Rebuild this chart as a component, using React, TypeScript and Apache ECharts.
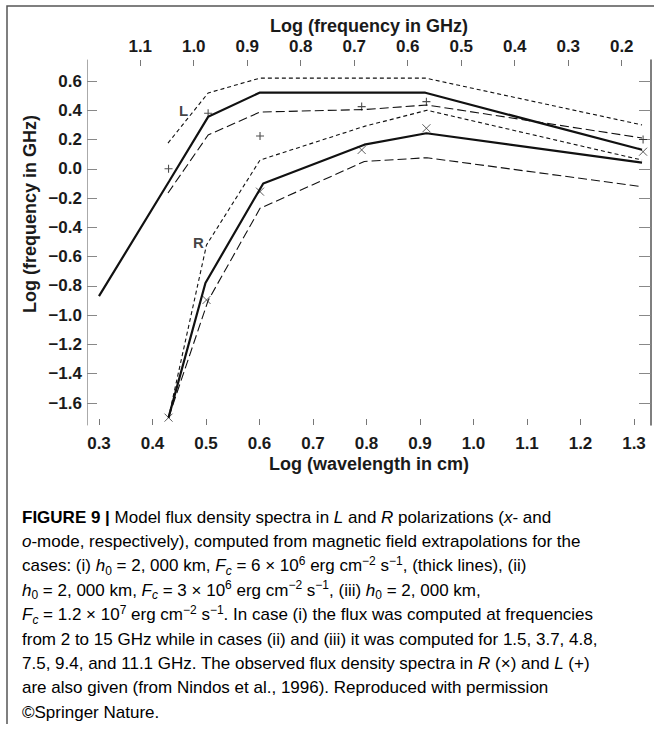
import React, { useEffect, useRef } from 'react';
import * as echarts from 'echarts';

const LOG30 = Math.log10(30);

// Axis ticks
const xTickValues = [0.3, 0.4, 0.5, 0.6, 0.7, 0.8, 0.9, 1.0, 1.1, 1.2, 1.3];
const yTickValues = [0.6, 0.4, 0.2, 0.0, -0.2, -0.4, -0.6, -0.8, -1.0, -1.2, -1.4, -1.6];
const freqTickValues = [1.1, 1.0, 0.9, 0.8, 0.7, 0.6, 0.5, 0.4, 0.3, 0.2];

// Axis extents (log wavelength / log flux)
const X_MIN = 0.2776;
const X_MAX = 1.3318;
const Y_MIN = -1.7503;
const Y_MAX = 0.7435;

// Model spectra, L polarization
const lThick = [[0.30, -0.87], [0.432, -0.08], [0.504, 0.355], [0.60, 0.52], [0.91, 0.52], [1.315, 0.13]];
const lUpper = [[0.429, 0.176], [0.504, 0.518], [0.601, 0.62], [0.796, 0.62], [0.91, 0.62], [1.315, 0.30]];
const lLower = [[0.429, -0.165], [0.504, 0.231], [0.601, 0.388], [0.796, 0.405], [0.913, 0.436], [1.315, 0.211]];
// Model spectra, R polarization
const rThick = [[0.43, -1.70], [0.499, -0.78], [0.607, -0.10], [0.796, 0.165], [0.912, 0.243], [1.315, 0.042]];
const rUpper = [[0.43, -1.70], [0.501, -0.52], [0.601, 0.06], [0.796, 0.29], [0.913, 0.40], [1.315, 0.06]];
const rLower = [[0.43, -1.70], [0.504, -0.90], [0.601, -0.27], [0.796, 0.05], [0.913, 0.076], [1.315, -0.122]];
// Observations
const lObs = [[0.43, 0.0], [0.504, 0.38], [0.601, 0.224], [0.791, 0.425], [0.912, 0.459], [1.317, 0.20]];
const rObs = [[0.43, -1.70], [0.501, -0.896], [0.601, -0.156], [0.791, 0.129], [0.912, 0.277], [1.317, 0.117]];
// Curve labels
const curveLabels = [
  { name: 'L', value: [0.458, 0.40] },
  { name: 'R', value: [0.486, -0.504] },
];

const FONT = '"Liberation Sans", Arial, Helvetica, sans-serif';
const PLUS = 'path://M0,5L10,5M5,0L5,10';
const CROSS = 'path://M0,0L10,10M0,10L10,0';

const captionLines = [
  '{b|FIGURE 9 |} Model flux density spectra in {i|L} and {i|R} polarizations ({i|x}- and',
  '{i|o}-mode, respectively), computed from magnetic field extrapolations for the',
  'cases: (i) {i|h}{sub|0} = 2, 000 km, {i|F}{isub|c} = 6 × 10{sup|6} erg cm{sup|−2} s{sup|−1}, (thick lines), (ii)',
  '{i|h}{sub|0} = 2, 000 km, {i|F}{isub|c} = 3 × 10{sup|6} erg cm{sup|−2} s{sup|−1}, (iii) {i|h}{sub|0} = 2, 000 km,',
  '{i|F}{isub|c} = 1.2 × 10{sup|7} erg cm{sup|−2} s{sup|−1}. In case (i) the flux was computed at frequencies',
  'from 2 to 15 GHz while in cases (ii) and (iii) it was computed for 1.5, 3.7, 4.8,',
  '7.5, 9.4, and 11.1 GHz. The observed flux density spectra in {i|R} (×) and {i|L} (+)',
  'are also given (from {link|Nindos et al., 1996}). Reproduced with permission',
  '©Springer Nature.',
];

const fmtY = (v: number) => (Math.abs(v) < 1e-9 ? '0.0' : v.toFixed(1).replace('-', '\u2212'));
const fmtX = (v: number) => v.toFixed(1);

const tickLabel = { fontSize: 17, fontWeight: 'bold' as const, fontFamily: FONT, color: '#1a1a1a' };

function buildOption() {
  const cap = 17;
  const capStyleBase = { fontSize: cap, fontFamily: FONT, color: '#333', lineHeight: 24 };
  const rich = {
    b: { ...capStyleBase, fontWeight: 'bold', color: '#111' },
    i: { ...capStyleBase, fontStyle: 'italic' },
    sub: { fontSize: 12, fontFamily: FONT, color: '#333', verticalAlign: 'bottom', height: 14, lineHeight: 24 },
    isub: { fontSize: 12, fontFamily: FONT, color: '#333', fontStyle: 'italic', verticalAlign: 'bottom', height: 14, lineHeight: 24 },
    sup: { fontSize: 12, fontFamily: FONT, color: '#333', verticalAlign: 'top', height: 14, lineHeight: 24 },
    link: { ...capStyleBase, color: '#7d8da0' },
  };

  const captionGraphics = captionLines.map((t, k) => ({
    type: 'text',
    x: 22,
    y: 517 + k * 24.4,
    style: {
      text: t,
      ...capStyleBase,
      align: 'left',
      verticalAlign: 'middle',
      rich,
    },
  }));

  const lineSeries = (data: number[][], width: number, type: any) => ({
    type: 'line',
    data,
    symbol: 'none',
    silent: true,
    xAxisIndex: 0,
    yAxisIndex: 0,
    lineStyle: { color: '#111', width, type },
  });

  return {
    animation: false,
    backgroundColor: '#ffffff',
    grid: { left: 87, top: 60, width: 564, height: 365 },
    xAxis: [
      {
        type: 'value',
        position: 'bottom',
        min: X_MIN,
        max: X_MAX,
        axisLine: { show: false, onZero: false },
        axisTick: { show: true, inside: true, length: 6, customValues: xTickValues, lineStyle: { color: '#777', width: 1 } },
        axisLabel: { customValues: xTickValues, formatter: fmtX, margin: 10, ...tickLabel },
        splitLine: { show: false },
      },
      {
        type: 'value',
        position: 'top',
        inverse: true,
        min: LOG30 - X_MAX,
        max: LOG30 - X_MIN,
        axisLine: { show: false, onZero: false },
        axisTick: { show: true, inside: true, length: 6, customValues: freqTickValues, lineStyle: { color: '#777', width: 1 } },
        axisLabel: { customValues: freqTickValues, formatter: fmtX, margin: 5, ...tickLabel },
        splitLine: { show: false },
      },
    ],
    yAxis: [
      {
        type: 'value',
        position: 'left',
        min: Y_MIN,
        max: Y_MAX,
        axisLine: { show: true, onZero: false, lineStyle: { color: '#aaa', width: 1 } },
        axisTick: { show: true, inside: true, length: 10, customValues: yTickValues, lineStyle: { color: '#888', width: 1 } },
        axisLabel: { customValues: yTickValues, formatter: fmtY, margin: 5, ...tickLabel },
        splitLine: { show: false },
      },
      {
        type: 'value',
        position: 'right',
        min: Y_MIN,
        max: Y_MAX,
        axisLine: { show: true, onZero: false, lineStyle: { color: '#555', width: 1.5 } },
        axisTick: { show: true, inside: true, length: 12, customValues: yTickValues, lineStyle: { color: '#888', width: 1 } },
        axisLabel: { show: false },
        splitLine: { show: false },
      },
    ],
    series: [
      lineSeries(lThick, 2.2, 'solid'),
      lineSeries(lUpper, 1.1, [4, 3]),
      lineSeries(lLower, 1.1, [9, 4]),
      lineSeries(rThick, 2.2, 'solid'),
      lineSeries(rUpper, 1.1, [4, 3]),
      lineSeries(rLower, 1.1, [9, 4]),
      {
        type: 'scatter',
        data: lObs,
        symbol: PLUS,
        symbolSize: 8,
        silent: true,
        itemStyle: { color: 'rgba(0,0,0,0)', borderColor: '#222', borderWidth: 1.1 },
      },
      {
        type: 'scatter',
        data: rObs,
        symbol: CROSS,
        symbolSize: 8,
        silent: true,
        itemStyle: { color: 'rgba(0,0,0,0)', borderColor: '#333', borderWidth: 1 },
      },
      {
        type: 'scatter',
        data: curveLabels,
        symbolSize: 0,
        silent: true,
        label: { show: true, position: 'inside', formatter: '{b}', fontSize: 15, fontWeight: 'bold', fontFamily: FONT, color: '#111' },
      },
    ],
    graphic: [
      {
        type: 'polyline',
        silent: true,
        shape: { points: [[7, 724], [7, 6], [654, 6]] },
        style: { stroke: '#555', lineWidth: 1.5, fill: 'none' },
      },
      {
        type: 'text',
        x: 369,
        y: 26,
        style: { text: 'Log (frequency in GHz)', fontSize: 18, fontWeight: 'bold', fontFamily: FONT, fill: '#1a1a1a', align: 'center', verticalAlign: 'middle' },
      },
      {
        type: 'text',
        x: 369,
        y: 464,
        style: { text: 'Log (wavelength in cm)', fontSize: 18, fontWeight: 'bold', fontFamily: FONT, fill: '#1a1a1a', align: 'center', verticalAlign: 'middle' },
      },
      {
        type: 'text',
        x: 30,
        y: 214,
        rotation: Math.PI / 2,
        style: { text: 'Log (frequency in GHz)', fontSize: 18, fontWeight: 'bold', fontFamily: FONT, fill: '#1a1a1a', align: 'center', verticalAlign: 'middle' },
      },
      ...captionGraphics,
    ],
  };
}

export default function App() {
  const ref = useRef<HTMLDivElement>(null);
  useEffect(() => {
    if (!ref.current) return;
    const chart = echarts.init(ref.current, null, { renderer: 'svg' });
    chart.setOption(buildOption() as any);
    return () => chart.dispose();
  }, []);
  return (
    <div
      ref={ref}
      style={{ position: 'absolute', left: 0, top: 0, width: 654, height: 734, background: '#fff' }}
    />
  );
}
